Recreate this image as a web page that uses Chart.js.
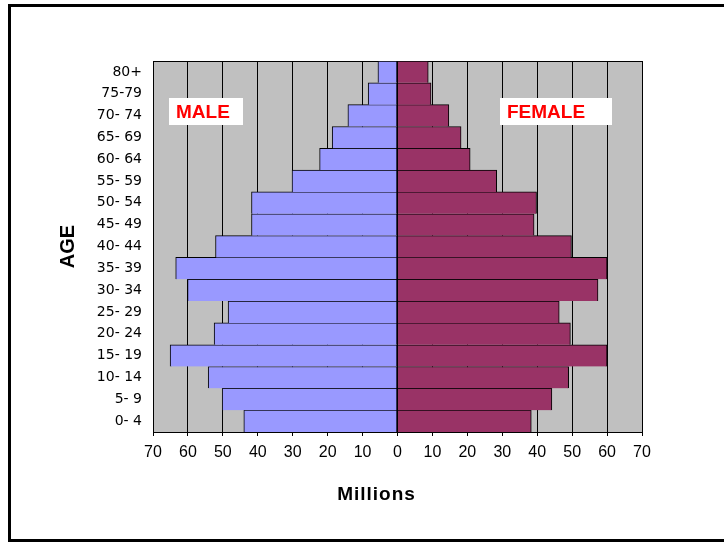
<!DOCTYPE html>
<html lang="en">
<head>
  <meta charset="UTF-8">
  <title>Population by age and sex</title>
  <script src="https://cdn.jsdelivr.net/npm/chart.js"></script>
  <style>
    html, body { margin: 0; padding: 0; background: #fff; }
    #wrap { position: relative; width: 724px; height: 542px; overflow: hidden; }
    #frame {
      position: absolute; left: 8px; top: 4px;
      width: 800px; height: 532px;
      border: 3px solid #000;
      pointer-events: none;
    }
  </style>
</head>
<body>

  <div id="wrap">
    <canvas id="chart" width="724" height="542"></canvas>
    <div id="frame"></div>
  </div>

  <script>
    // age groups, youngest first (axis is reversed so 80+ sits on top)
    const ageGroups = ['0- 4', '5- 9', '10- 14', '15- 19', '20- 24', '25- 29', '30- 34', '35- 39',
      '40- 44', '45- 49', '50- 54', '55- 59', '60- 64', '65- 69', '70- 74', '75-79', '80+'];

    // millions of people
    const maleMillions = [44.0, 50.2, 54.2, 65.1, 52.5, 48.5, 60.1, 63.5,
      52.1, 41.8, 41.8, 30.2, 22.3, 18.7, 14.2, 8.4, 5.6];
    const femaleMillions = [38.3, 44.2, 49.0, 60.0, 49.5, 46.3, 57.4, 60.0,
      49.8, 39.1, 39.8, 28.4, 20.8, 18.2, 14.7, 9.6, 8.8];

    const axisLimit = 70;
    const tickStep = 10;

    const ARIAL = '"Liberation Sans", Arial, sans-serif';

    // grey plot area with a thin outline
    const plotBackground = {
      id: 'plotBackground',
      beforeDraw(chart) {
        const { ctx, chartArea: a } = chart;
        ctx.save();
        ctx.fillStyle = '#c0c0c0';
        ctx.fillRect(a.left, a.top, a.width, a.height);
        ctx.restore();
      },
      beforeDatasetsDraw(chart) {
        const { ctx, chartArea: a } = chart;
        ctx.save();
        ctx.strokeStyle = '#000';
        ctx.lineWidth = 1;
        ctx.strokeRect(Math.round(a.left) + 0.5, Math.round(a.top) + 0.5,
          Math.round(a.width), Math.round(a.height));
        ctx.restore();
      }
    };

    // "MALE" / "FEMALE" tags in white boxes, plus the x axis caption
    const sexTags = {
      id: 'sexTags',
      afterDraw(chart) {
        const { ctx, chartArea: a, scales: { x } } = chart;
        const tags = [
          { text: 'MALE', from: -65.4, to: -44.3 },
          { text: 'FEMALE', from: 29.4, to: 61.4 }
        ];
        const top = a.top + 37;
        const h = 27;
        ctx.save();
        ctx.font = 'bold 19px ' + ARIAL;
        ctx.textBaseline = 'middle';
        ctx.textAlign = 'left';
        tags.forEach(t => {
          const l = Math.round(x.getPixelForValue(t.from));
          const r = Math.round(x.getPixelForValue(t.to));
          ctx.fillStyle = '#fff';
          ctx.fillRect(l, top, r - l, h);
          ctx.fillStyle = '#ff0000';
          ctx.fillText(t.text, l + 7, top + h / 2 + 1);
        });

        // caption sits a little left of the zero line
        ctx.fillStyle = '#000';
        ctx.textAlign = 'center';
        ctx.letterSpacing = '1px';
        ctx.fillText('Millions', x.getPixelForValue(-6), a.bottom + 63);
        ctx.restore();
      }
    };

    new Chart(document.getElementById('chart'), {
      type: 'bar',
      data: {
        labels: ageGroups,
        datasets: [
          {
            label: 'Male',
            data: maleMillions.map(v => -v),
            backgroundColor: '#9999ff',
            borderColor: '#000',
            borderWidth: { top: 1, right: 1, bottom: 0, left: 1 },
            borderSkipped: false
          },
          {
            label: 'Female',
            data: femaleMillions,
            backgroundColor: '#993366',
            borderColor: '#000',
            borderWidth: { top: 1, right: 1, bottom: 0, left: 0 },
            borderSkipped: false
          }
        ]
      },
      options: {
        indexAxis: 'y',
        responsive: false,
        animation: false,
        barPercentage: 1,
        categoryPercentage: 1,
        layout: { padding: { left: 52, right: 82, top: 61, bottom: 31 } },
        plugins: {
          legend: { display: false },
          tooltip: { enabled: false }
        },
        scales: {
          x: {
            stacked: true,
            min: -axisLimit,
            max: axisLimit,
            ticks: {
              stepSize: tickStep,
              callback: v => Math.abs(v),
              color: '#000',
              font: { family: ARIAL, size: 16 },
              padding: 7,
              maxRotation: 0,
              autoSkip: false
            },
            grid: { color: '#000', lineWidth: 1, tickLength: 4, tickColor: '#000' },
            border: { display: true, color: '#000', width: 1 },
            afterFit(scale) { scale.height = 79; }
          },
          y: {
            stacked: true,
            reverse: true,
            grid: { display: false, drawTicks: false },
            border: { display: false },
            ticks: {
              color: '#000',
              font: { family: '"DejaVu Sans", sans-serif', size: 14 },
              padding: 11,
              autoSkip: false
            },
            title: {
              display: true,
              text: 'AGE',
              color: '#000',
              font: { family: ARIAL, size: 20, weight: 'bold' },
              padding: { top: 4, bottom: 4 }
            },
            afterFit(scale) { scale.width = 101; }
          }
        }
      },
      plugins: [plotBackground, sexTags]
    });
  </script>

</body>
</html>
